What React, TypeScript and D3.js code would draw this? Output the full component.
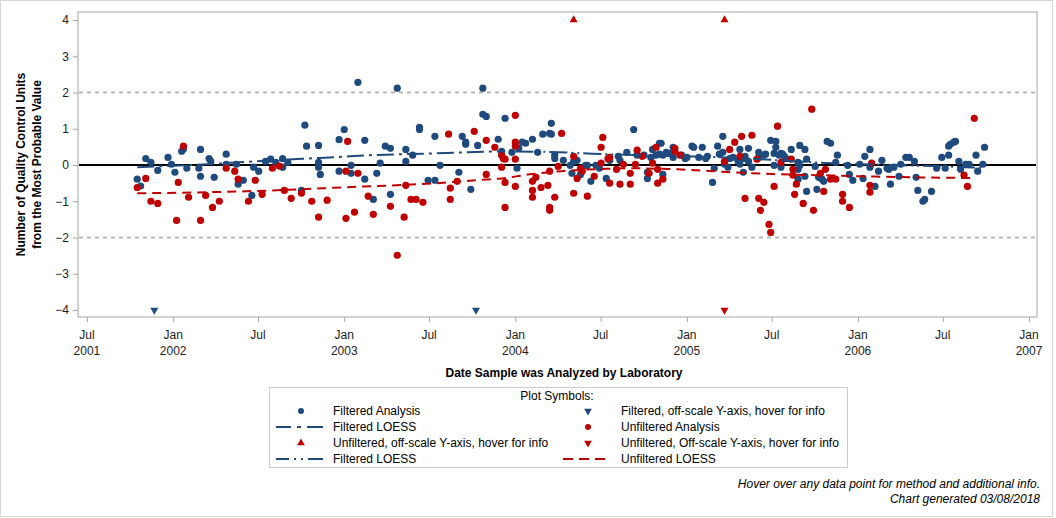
import React, { useEffect, useRef } from 'react';
import * as d3 from 'd3';

// [decimal year, QC units from most probable value]
const filteredAnalysis: [number, number][] = [
  [2001.79, -0.39], [2001.81, -0.58], [2001.84, 0.18], [2001.87, 0.07], [2001.91, -0.15], [2001.97, 0.21], [2001.99, 0.02], [2002.01, -0.2], [2002.05, 0.38], [2002.06, 0.44],
  [2002.08, -0.09], [2002.15, -0.09], [2002.16, 0.43], [2002.16, -0.31], [2002.21, 0.18], [2002.22, 0.1], [2002.24, -0.34], [2002.31, 0.3], [2002.31, 0.02], [2002.37, 0.02],
  [2002.38, -0.53], [2002.41, -0.42], [2002.47, -0.06], [2002.46, -0.84], [2002.5, -0.17], [2002.54, 0.1], [2002.57, 0.16], [2002.6, 0.07], [2002.64, 0.18], [2002.64, -0.06],
  [2002.67, 0.07], [2002.75, -0.7], [2002.77, 1.1], [2002.78, 0.52], [2002.85, 0.54], [2002.85, 0.07], [2002.85, -0.06], [2002.86, -0.26], [2002.97, 0.7], [2003.0, 0.98],
  [2002.97, -0.17], [2003.04, -0.01], [2003.04, -0.23], [2003.08, 2.28], [2003.12, 0.68], [2003.12, -0.39], [2003.17, -0.95], [2003.19, -0.23], [2003.21, 0.05], [2003.31, 2.12],
  [2003.24, 0.52], [2003.27, 0.46], [2003.27, -0.81], [2003.36, 0.43], [2003.36, 0.1], [2003.4, 0.27], [2003.44, 1.04], [2003.44, 0.98], [2003.53, 0.79], [2003.49, -0.42],
  [2003.53, -0.42], [2003.56, -0.01], [2003.67, -0.2], [2003.69, 0.79], [2003.71, 0.63], [2003.71, 0.57], [2003.74, -0.67], [2003.78, 0.54], [2003.81, 2.12], [2003.81, 1.4],
  [2003.83, 1.34], [2003.9, 0.71], [2003.92, 0.38], [2003.94, 1.29], [2003.98, 0.35], [2004.01, -0.09], [2004.02, 0.46], [2004.04, 0.63], [2004.06, 0.6], [2004.1, 0.71],
  [2004.13, 0.35], [2004.16, 0.85], [2004.21, 1.15], [2004.2, 0.87], [2004.21, 0.85], [2004.23, 0.27], [2004.23, 0.18], [2004.28, 0.13], [2004.32, -0.01], [2004.33, -0.23],
  [2004.34, 0.1], [2004.36, 0.13], [2004.38, -0.26], [2004.41, -0.01], [2004.42, -0.01], [2004.44, -0.45], [2004.47, -0.01], [2004.49, -0.09], [2004.53, -0.37], [2004.55, 0.13],
  [2004.6, 0.24], [2004.61, 0.13], [2004.65, 0.35], [2004.69, 0.98], [2004.71, 0.27], [2004.75, 0.27], [2004.77, -0.2], [2004.77, -0.37], [2004.79, 0.21], [2004.8, 0.43],
  [2004.84, 0.6], [2004.85, 0.6], [2004.82, 0.27], [2004.84, 0.3], [2004.86, 0.27], [2004.86, -0.26], [2004.88, 0.35], [2004.9, 0.32], [2004.92, 0.49], [2004.92, 0.21],
  [2004.97, 0.27], [2004.99, 0.18], [2005.0, 0.21], [2005.03, 0.52], [2005.04, 0.49], [2005.07, 0.21], [2005.09, 0.49], [2005.11, 0.18], [2005.12, 0.24], [2005.15, -0.48],
  [2005.16, -0.09], [2005.18, 0.52], [2005.19, 0.3], [2005.21, 0.35], [2005.21, 0.79], [2005.22, 0.02], [2005.24, -0.06], [2005.25, 0.18], [2005.27, 0.21], [2005.3, 0.1],
  [2005.31, 0.02], [2005.31, 0.43], [2005.33, -0.2], [2005.33, 0.18], [2005.34, 0.24], [2005.36, 0.46], [2005.36, 0.1], [2005.38, -0.06], [2005.42, 0.35], [2005.42, 0.21],
  [2005.45, 0.27], [2005.46, 0.3], [2005.49, 0.68], [2005.52, 0.65], [2005.52, 0.49], [2005.51, -0.01], [2005.51, 0.32], [2005.54, 0.27], [2005.55, 0.32], [2005.56, 0.3],
  [2005.55, -0.06], [2005.57, 0.24], [2005.58, 0.18], [2005.61, 0.43], [2005.65, 0.07], [2005.66, -0.01], [2005.65, -0.39], [2005.66, 0.54], [2005.69, 0.43], [2005.65, -0.12],
  [2005.69, -0.31], [2005.7, 0.16], [2005.7, -0.73], [2005.75, -0.04], [2005.76, -0.67], [2005.77, -0.34], [2005.79, -0.39], [2005.8, -0.45], [2005.82, 0.65], [2005.84, 0.6],
  [2005.87, 0.07], [2005.88, 0.27], [2005.94, -0.01], [2005.95, -0.26], [2005.97, -0.42], [2006.01, 0.02], [2006.03, -0.37], [2006.04, 0.24], [2006.07, 0.43], [2006.07, -0.06],
  [2006.1, -0.59], [2006.12, -0.17], [2006.14, 0.13], [2006.17, -0.09], [2006.18, -0.12], [2006.21, -0.06], [2006.24, -0.31], [2006.19, -0.53], [2006.25, 0.02], [2006.28, 0.21],
  [2006.3, 0.21], [2006.33, 0.1], [2006.34, -0.34], [2006.35, -0.7], [2006.38, -1.0], [2006.39, -0.95], [2006.43, -0.73], [2006.46, -0.09], [2006.49, 0.21], [2006.51, -0.09],
  [2006.53, 0.27], [2006.53, 0.52], [2006.54, 0.57], [2006.56, 0.63], [2006.57, 0.65], [2006.59, 0.1], [2006.6, -0.12], [2006.63, 0.02], [2006.65, 0.02], [2006.69, 0.27],
  [2006.7, -0.17], [2006.73, 0.02], [2006.74, 0.49],
];

const unfilteredAnalysis: [number, number][] = [
  [2001.79, -0.62], [2001.84, -0.37], [2001.87, -1.0], [2001.91, -1.06], [2002.02, -1.53], [2002.03, -0.48], [2002.06, 0.52], [2002.09, -0.89], [2002.16, -1.53], [2002.19, -0.84],
  [2002.23, -1.17], [2002.27, -1.0], [2002.31, -0.09], [2002.36, -0.17], [2002.38, -0.39], [2002.44, -1.0], [2002.48, -0.42], [2002.52, -0.81], [2002.58, -0.09], [2002.62, -0.03],
  [2002.65, -0.7], [2002.69, -0.92], [2002.75, -0.78], [2002.81, -1.0], [2002.85, -1.44], [2002.9, -0.97], [2003.02, 0.65], [2003.01, -0.17], [2003.08, -0.23], [2003.01, -1.47],
  [2003.06, -1.3], [2003.14, -0.86], [2003.17, -1.36], [2003.31, -2.49], [2003.27, -1.14], [2003.35, -1.44], [2003.36, -0.56], [2003.39, -0.95], [2003.42, -0.95], [2003.46, -1.03],
  [2003.61, 0.85], [2003.62, -0.64], [2003.62, -0.95], [2003.66, -0.45], [2003.76, 0.93], [2003.83, 0.68], [2003.83, -0.26], [2003.88, 0.49], [2003.92, 0.27], [2003.93, 0.18],
  [2003.92, -0.06], [2003.94, -0.48], [2003.94, -1.17], [2004.0, 1.37], [2004.0, 0.63], [2004.0, 0.52], [2003.94, 0.16], [2004.0, 0.16], [2004.0, -0.59], [2004.1, -0.45],
  [2004.12, -0.34], [2004.1, -0.7], [2004.1, -0.89], [2004.15, -0.62], [2004.19, -0.56], [2004.2, -1.17], [2004.2, -1.25], [2004.23, -0.89], [2004.2, -0.17], [2004.25, -0.04],
  [2004.27, 0.87], [2004.34, 0.24], [2004.34, -0.78], [2004.36, -0.37], [2004.38, -0.09], [2004.39, -0.17], [2004.42, -0.86], [2004.46, -0.31], [2004.5, 0.49], [2004.51, 0.76],
  [2004.5, 0.05], [2004.54, 0.18], [2004.55, 0.21], [2004.55, -0.5], [2004.59, -0.12], [2004.61, -0.53], [2004.63, 0.02], [2004.67, -0.23], [2004.67, -0.53], [2004.71, 0.41],
  [2004.7, 0.02], [2004.74, 0.24], [2004.78, -0.23], [2004.8, 0.05], [2004.82, 0.49], [2004.83, -0.12], [2004.83, -0.5], [2004.86, -0.39], [2004.93, 0.46], [2004.93, 0.38],
  [2004.96, 0.27], [2005.22, 0.1], [2005.25, 0.43], [2005.28, 0.63], [2005.32, 0.79], [2005.31, 0.24], [2005.38, 0.82], [2005.34, -0.92], [2005.41, 0.16], [2005.53, 1.07],
  [2005.55, 0.07], [2005.51, -0.59], [2005.42, -0.92], [2005.45, -1.03], [2005.43, -1.25], [2005.48, -1.64], [2005.49, -1.86], [2005.61, 0.16], [2005.62, -0.12], [2005.62, -0.28],
  [2005.64, -0.53], [2005.63, -0.81], [2005.68, -1.06], [2005.73, 1.54], [2005.74, -1.25], [2005.78, -0.23], [2005.81, -0.12], [2005.8, -0.73], [2005.84, -0.39], [2005.87, -0.39],
  [2005.91, -0.81], [2005.91, -1.0], [2005.95, -1.17], [2006.08, 0.05], [2006.07, -0.56], [2006.07, -0.75], [2006.62, -0.28], [2006.64, -0.59], [2006.68, 1.29],
];

// off-scale markers, drawn on the +/-4 edge
const filteredOffLow = [2001.89, 2003.77];
const unfilteredOffHigh = [2004.34, 2005.22];
const unfilteredOffLow = [2005.22];

// LOESS curves
const filteredLoessA: [number, number][] = [
  [2001.79, -0.06], [2002.0, -0.02], [2002.2, 0.02], [2002.47, 0.1], [2002.75, 0.17], [2002.96, 0.22],
  [2003.15, 0.27], [2003.52, 0.32], [2003.77, 0.36], [2003.94, 0.38],
];
const filteredLoessB: [number, number][] = [
  [2004.0, 0.37], [2004.2, 0.36], [2004.45, 0.31], [2004.65, 0.28], [2004.9, 0.25], [2005.1, 0.23],
  [2005.36, 0.18], [2005.6, 0.11], [2005.9, 0.04], [2006.2, 0.0], [2006.5, -0.04], [2006.74, -0.08],
];
const unfilteredLoess: [number, number][] = [
  [2001.79, -0.78], [2002.46, -0.72], [2002.75, -0.67], [2002.98, -0.62], [2003.19, -0.58], [2003.51, -0.51],
  [2003.8, -0.41], [2003.92, -0.37], [2004.1, -0.25], [2004.27, -0.17], [2004.5, -0.11], [2004.65, -0.09],
  [2004.95, -0.12], [2005.26, -0.2], [2005.5, -0.25], [2005.85, -0.29], [2006.1, -0.32], [2006.68, -0.36],
];

const yTicks = [-4, -3, -2, -1, 0, 1, 2, 3, 4];
const xTickLabels = ['Jul|2001', 'Jan|2002', 'Jul', 'Jan|2003', 'Jul', 'Jan|2004', 'Jul', 'Jan|2005', 'Jul', 'Jan|2006', 'Jul', 'Jan|2007'];

const BLUE = '#1f4a7e';
const RED = '#c00000';
const FONT = '"Liberation Sans", Arial, sans-serif';

// decimal year -> Date
const toDate = (y: number) => {
  const yr = Math.floor(y);
  const a = new Date(yr, 0, 1).getTime();
  const b = new Date(yr + 1, 0, 1).getTime();
  return new Date(a + (y - yr) * (b - a));
};

const App: React.FC = () => {
  const ref = useRef<SVGSVGElement>(null);

  useEffect(() => {
    if (!ref.current) return;
    const svg = d3.select(ref.current);
    svg.selectAll('*').remove();

    const left = 78, right = 1037, top = 12, bottom = 317;

    const x = d3.scaleTime()
      .domain([new Date(2001, 5, 12), new Date(2007, 0, 18)])
      .range([left, right]);
    const y = d3.scaleLinear()
      .domain([-4 - 7 / 36.25, 4 + 8 / 36.25])
      .range([bottom, top]);

    // outer border
    svg.append('rect')
      .attr('x', 0.5).attr('y', 0.5).attr('width', 1052).attr('height', 516)
      .attr('fill', 'white').attr('stroke', '#d4d4d4');

    // plot frame
    svg.append('rect')
      .attr('x', left).attr('y', top).attr('width', right - left).attr('height', bottom - top)
      .attr('fill', 'none').attr('stroke', '#a6a6a6');

    // y axis
    const yAxis = svg.append('g').attr('transform', `translate(${left},0)`)
      .call(d3.axisLeft(y).tickValues(yTicks).tickSize(5).tickPadding(4).tickFormat(d3.format('d')));
    yAxis.select('.domain').remove();
    yAxis.selectAll('line').attr('stroke', '#a6a6a6');
    yAxis.selectAll('text').attr('font-family', FONT).attr('font-size', 12).attr('fill', '#222');

    // x axis
    const xTicks = d3.timeMonth.every(6)!.range(new Date(2001, 6, 1), new Date(2007, 0, 2));
    const xAxis = svg.append('g').attr('transform', `translate(0,${bottom})`)
      .call(d3.axisBottom(x).tickValues(xTicks).tickSize(5).tickFormat(() => ''));
    xAxis.select('.domain').remove();
    xAxis.selectAll('line').attr('stroke', '#a6a6a6');
    xTicks.forEach((d, i) => {
      const parts = xTickLabels[i].split('|');
      parts.forEach((p, j) => {
        svg.append('text')
          .attr('x', x(d)).attr('y', 339 + j * 16)
          .attr('text-anchor', 'middle')
          .attr('font-family', FONT).attr('font-size', 12).attr('fill', '#222')
          .text(p);
      });
    });

    // reference lines
    [2, -2].forEach(v => {
      svg.append('line')
        .attr('x1', left + 1).attr('x2', right - 1).attr('y1', y(v)).attr('y2', y(v))
        .attr('stroke', '#b8b8b8').attr('stroke-width', 2).attr('stroke-dasharray', '4,4');
    });
    svg.append('line')
      .attr('x1', left + 1).attr('x2', right - 1).attr('y1', y(0)).attr('y2', y(0))
      .attr('stroke', '#000').attr('stroke-width', 2);

    // points
    const plot = svg.append('g');
    plot.selectAll('circle.filt')
      .data(filteredAnalysis)
      .join('circle')
      .attr('class', 'filt')
      .attr('cx', d => x(toDate(d[0])))
      .attr('cy', d => y(d[1]))
      .attr('r', 3.6)
      .attr('fill', BLUE);

    plot.selectAll('circle.unfilt')
      .data(unfilteredAnalysis)
      .join('circle')
      .attr('class', 'unfilt')
      .attr('cx', d => x(toDate(d[0])))
      .attr('cy', d => y(d[1]))
      .attr('r', 3.6)
      .attr('fill', RED);

    const tri = d3.symbol(d3.symbolTriangle, 28);
    const offs: { yr: number; v: number; color: string; down: boolean }[] = [
      ...filteredOffLow.map(yr => ({ yr, v: -4, color: BLUE, down: true })),
      ...unfilteredOffHigh.map(yr => ({ yr, v: 4, color: RED, down: false })),
      ...unfilteredOffLow.map(yr => ({ yr, v: -4, color: RED, down: true })),
    ];
    plot.selectAll('path.off')
      .data(offs)
      .join('path')
      .attr('class', 'off')
      .attr('d', tri)
      .attr('transform', d => `translate(${x(toDate(d.yr))},${y(d.v)}) rotate(${d.down ? 180 : 0})`)
      .attr('fill', d => d.color);

    // LOESS lines
    const line = d3.line<[number, number]>()
      .x(d => x(toDate(d[0])))
      .y(d => y(d[1]))
      .curve(d3.curveMonotoneX);

    svg.append('path').datum(filteredLoessA)
      .attr('d', line).attr('fill', 'none').attr('stroke', BLUE)
      .attr('stroke-width', 2).attr('stroke-dasharray', '17,5,3,5');
    svg.append('path').datum(filteredLoessB)
      .attr('d', line).attr('fill', 'none').attr('stroke', BLUE)
      .attr('stroke-width', 2).attr('stroke-dasharray', '18,4,2,4,2,4');
    svg.append('path').datum(unfilteredLoess)
      .attr('d', line).attr('fill', 'none').attr('stroke', RED)
      .attr('stroke-width', 2).attr('stroke-dasharray', '9,6');

    // axis titles
    svg.append('text')
      .attr('x', 564).attr('y', 377)
      .attr('text-anchor', 'middle')
      .attr('font-family', FONT).attr('font-size', 12).attr('font-weight', 'bold')
      .text('Date Sample was Analyzed by Laboratory');

    const yTitle = svg.append('text')
      .attr('transform', `translate(0,${(top + bottom) / 2}) rotate(-90)`)
      .attr('text-anchor', 'middle')
      .attr('font-family', FONT).attr('font-size', 12).attr('font-weight', 'bold');
    yTitle.append('tspan').attr('x', 0).attr('y', 25).text('Number of Quality Control Units');
    yTitle.append('tspan').attr('x', 0).attr('y', 41).text('from the Most Probable Value');

    // legend
    const lg = svg.append('g');
    lg.append('rect')
      .attr('x', 269.5).attr('y', 387.5).attr('width', 578).attr('height', 80)
      .attr('fill', 'none').attr('stroke', '#cccccc');
    lg.append('text')
      .attr('x', 557).attr('y', 400)
      .attr('text-anchor', 'middle')
      .attr('font-family', FONT).attr('font-size', 12)
      .text('Plot Symbols:');

    const rows = [411, 427, 443, 459];
    const cols = [{ sym: 301, txt: 333, l0: 276, l1: 323 }, { sym: 588, txt: 621, l0: 563, l1: 606 }];
    const items = [
      { r: 0, c: 0, kind: 'dot', color: BLUE, label: 'Filtered Analysis' },
      { r: 0, c: 1, kind: 'down', color: BLUE, label: 'Filtered, off-scale Y-axis, hover for info' },
      { r: 1, c: 0, kind: 'line', color: BLUE, dash: '15,6,4,6,16', label: 'Filtered LOESS' },
      { r: 1, c: 1, kind: 'dot', color: RED, label: 'Unfiltered Analysis' },
      { r: 2, c: 0, kind: 'up', color: RED, label: 'Unfiltered, off-scale Y-axis, hover for info' },
      { r: 2, c: 1, kind: 'down', color: RED, label: 'Unfiltered, Off-scale Y-axis, hover for info' },
      { r: 3, c: 0, kind: 'line', color: BLUE, dash: '13,5,2,5,2,5,15', label: 'Filtered LOESS' },
      { r: 3, c: 1, kind: 'line', color: RED, dash: '10,6', label: 'Unfiltered LOESS' },
    ];
    const legendTri = d3.symbol(d3.symbolTriangle, 26);
    items.forEach(it => {
      const cy = rows[it.r];
      const col = cols[it.c];
      if (it.kind === 'dot') {
        lg.append('circle').attr('cx', col.sym).attr('cy', cy).attr('r', 3).attr('fill', it.color);
      } else if (it.kind === 'line') {
        lg.append('line')
          .attr('x1', col.l0).attr('x2', col.l1).attr('y1', cy).attr('y2', cy)
          .attr('stroke', it.color).attr('stroke-width', 2).attr('stroke-dasharray', it.dash!);
      } else {
        lg.append('path').attr('d', legendTri)
          .attr('transform', `translate(${col.sym},${cy}) rotate(${it.kind === 'down' ? 180 : 0})`)
          .attr('fill', it.color);
      }
      lg.append('text')
        .attr('x', col.txt).attr('y', cy + 4)
        .attr('font-family', FONT).attr('font-size', 12)
        .text(it.label);
    });

    // footnotes
    svg.append('text')
      .attr('x', 1040).attr('y', 488)
      .attr('text-anchor', 'end')
      .attr('font-family', FONT).attr('font-size', 12).attr('font-style', 'italic')
      .text('Hover over any data point for method and additional info.');
    svg.append('text')
      .attr('x', 1040).attr('y', 503)
      .attr('text-anchor', 'end')
      .attr('font-family', FONT).attr('font-size', 12).attr('font-style', 'italic')
      .text('Chart generated 03/08/2018');
  }, []);

  return (
    <div>
      <style>{'body { margin: 0; }'}</style>
      <svg ref={ref} width={1056} height={518} style={{ display: 'block' }}></svg>
    </div>
  );
};

export default App;
